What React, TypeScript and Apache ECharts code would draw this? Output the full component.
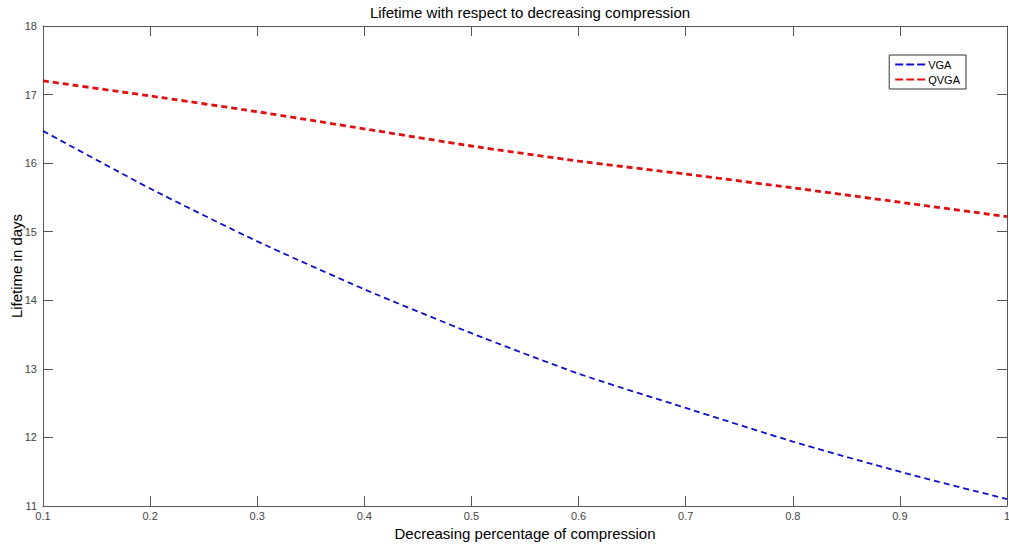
import React, { useEffect, useRef } from "react";
import * as echarts from "echarts";

const compression = [0.1, 0.2, 0.3, 0.4, 0.5, 0.6, 0.7, 0.8, 0.9, 1.0];
const vga = [16.47, 15.63, 14.86, 14.16, 13.52, 12.93, 12.43, 11.94, 11.5, 11.1];
const qvga = [17.2, 16.98, 16.75, 16.5, 16.25, 16.03, 15.84, 15.64, 15.43, 15.22];
const seriesNames = ["VGA", "QVGA"];

const FONT = "Liberation Sans, Arial, sans-serif";
const AXIS_COLOR = "#555";
const DASH_ICON =
  "path://M0,0L8,0L8,2L0,2ZM11,0L19,0L19,2L11,2ZM22,0L30,0L30,2L22,2Z";

export default function App() {
  const ref = useRef<HTMLDivElement>(null);
  useEffect(() => {
    if (!ref.current) return;
    const chart = echarts.init(ref.current, null, { renderer: "svg" });
    const axisCommon = {
      axisLine: { show: true, lineStyle: { color: AXIS_COLOR, width: 1 } },
      axisTick: { show: true, inside: true, length: 10, lineStyle: { color: AXIS_COLOR } },
      splitLine: { show: false },
    };
    chart.setOption({
      animation: false,
      backgroundColor: "#fff",
      title: {
        text: "Lifetime with respect to decreasing compression",
        left: 525,
        textAlign: "center",
        top: 0,
        textStyle: { fontFamily: FONT, fontSize: 15, fontWeight: "normal", color: "#000" },
      },
      legend: {
        orient: "vertical",
        right: 43,
        top: 55,
        data: seriesNames.map((n) => ({ name: n, icon: DASH_ICON })),
        backgroundColor: "#fff",
        borderColor: "#333",
        borderWidth: 1,
        borderRadius: 0,
        padding: [4, 6, 4, 6],
        itemGap: 4,
        itemWidth: 30,
        itemHeight: 2,
        textStyle: { fontFamily: FONT, fontSize: 11, color: "#000", padding: [0, 0, 0, -2] },
      },
      grid: { left: 43, right: 2, top: 26, bottom: 39, outerBoundsMode: "none", containLabel: false },
      xAxis: [
        {
          type: "value",
          min: 0.1,
          max: 1,
          interval: 0.1,
          ...axisCommon,
          axisLabel: { fontFamily: FONT, fontSize: 11, color: "#444", margin: 4 },
          name: "Decreasing percentage of compression",
          nameLocation: "middle",
          nameGap: 18,
          nameTextStyle: { fontFamily: FONT, fontSize: 15, color: "#000" },
        },
        {
          type: "value",
          position: "top",
          min: 0.1,
          max: 1,
          interval: 0.1,
          ...axisCommon,
          axisLabel: { show: false },
        },
      ],
      yAxis: [
        {
          type: "value",
          min: 11,
          max: 18,
          interval: 1,
          ...axisCommon,
          axisLabel: { fontFamily: FONT, fontSize: 11, color: "#444", margin: 6 },
          name: "Lifetime in days",
          nameLocation: "middle",
          nameGap: 19,
          nameMoveOverlap: false,
          nameTextStyle: { fontFamily: FONT, fontSize: 15, color: "#000" },
        },
        {
          type: "value",
          position: "right",
          min: 11,
          max: 18,
          interval: 1,
          ...axisCommon,
          axisLabel: { show: false },
        },
      ],
      series: [
        {
          name: seriesNames[0],
          type: "line",
          data: compression.map((x, i) => [x, vga[i]]),
          symbol: "none",
          smooth: 0.2,
          lineStyle: { color: "#1010cc", width: 1.8, type: [6, 4] },
          itemStyle: { color: "#1010cc" },
        },
        {
          name: seriesNames[1],
          type: "line",
          data: compression.map((x, i) => [x, qvga[i]]),
          symbol: "none",
          smooth: 0.2,
          lineStyle: { color: "#e01010", width: 2.8, type: [6, 4] },
          itemStyle: { color: "#e01010" },
        },
      ],
    });
    return () => chart.dispose();
  }, []);
  return (
    <div
      ref={ref}
      style={{ position: "absolute", left: 0, top: 0, width: 1009, height: 545 }}
    />
  );
}
